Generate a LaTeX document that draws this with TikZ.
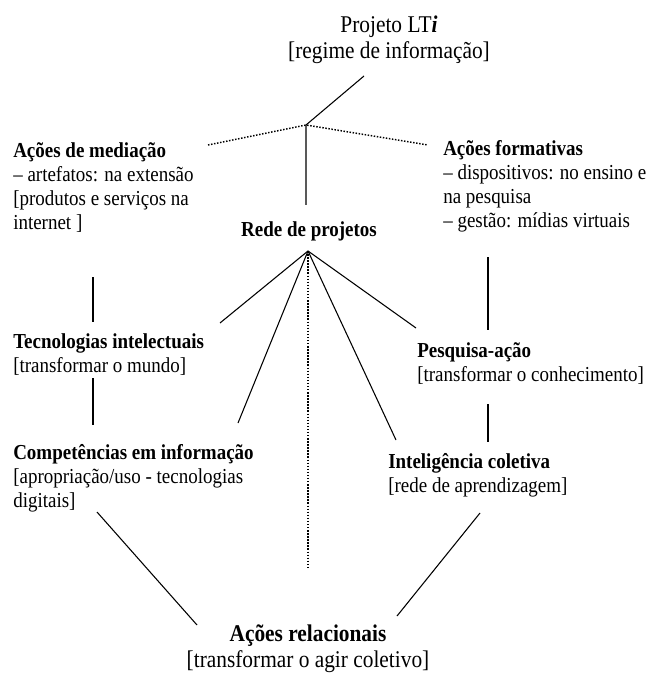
\documentclass[tikz,border=0pt]{standalone}
\usepackage{fontspec}
\setmainfont{Liberation Serif}[FakeStretch=0.89]
\usetikzlibrary{positioning}
\tikzstyle{bloco} = [inner sep=0pt, align=left, anchor=north west, font=\fontsize{16}{18}\selectfont]
\tikzstyle{titulo} = [inner sep=0pt, align=center, anchor=north, font=\fontsize{18}{19.5}\selectfont]
\tikzstyle{liga} = [line width=0.8pt]
\tikzstyle{pontos} = [line width=1.1pt, dash pattern=on 1.1pt off 1.2pt]

\begin{document}
\begin{tikzpicture}[x=0.75pt, y=-0.75pt]
  \useasboundingbox (0,0) rectangle (651,673);

  % textos
  \node[titulo] (projeto) at (389,16) {Projeto LT\textbf{\textit{i}}\\{}[regime de informação]};
  \node[bloco] (mediacao) at (13,142) {\textbf{Ações de mediação}\\– artefatos: na extensão\\{}[produtos e serviços na\\internet ]};
  \node[bloco] (formativas) at (443,140) {\textbf{Ações formativas}\\– dispositivos: no ensino e\\na pesquisa\\– gestão: mídias virtuais};
  \node[bloco, anchor=north] (rede) at (309,221) {\textbf{Rede de projetos}};
  \node[bloco] (tecnologias) at (13,333) {\textbf{Tecnologias intelectuais}\\{}[transformar o mundo]};
  \node[bloco] (pesquisa) at (417,342) {\textbf{Pesquisa-ação}\\{}[transformar o conhecimento]};
  \node[bloco] (competencias) at (13,444) {\textbf{Competências em informação}\\{}[apropriação/uso - tecnologias\\digitais]};
  \node[bloco] (inteligencia) at (388,453) {\textbf{Inteligência coletiva}\\{}[rede de aprendizagem]};
  \node[titulo] (relacionais) at (308,625) {\textbf{Ações relacionais}\\{}[transformar o agir coletivo]};

  % pontos de ligacao
  \coordinate (nodo) at (306,125);
  \coordinate (topo) at (364,76);
  \coordinate (med) at (208,145);
  \coordinate (form) at (428,145);
  \coordinate (desce) at (306,205);
  \coordinate (raiz) at (308,251);
  \coordinate (tec) at (220,323);
  \coordinate (comp) at (238,423);
  \coordinate (rel) at (308,568);
  \coordinate (intel) at (396,440);
  \coordinate (pesq) at (416,328);

  \draw[liga] (topo) -- (nodo) -- (desce);
  \draw[pontos] (med) -- (nodo) -- (form);

  \foreach \p in {tec,comp,intel,pesq}
    \draw[liga] (raiz) -- (\p);
  \draw[pontos] (raiz) -- (rel);

  \draw[liga] (93,277) -- (93,322);
  \draw[liga] (93,378) -- (93,425);
  \draw[liga] (488,257) -- (488,330);
  \draw[liga] (488,404) -- (488,442);

  \draw[liga] (97,512) -- (197,625);
  \draw[liga] (480,513) -- (397,616);

\end{tikzpicture}
\end{document}
